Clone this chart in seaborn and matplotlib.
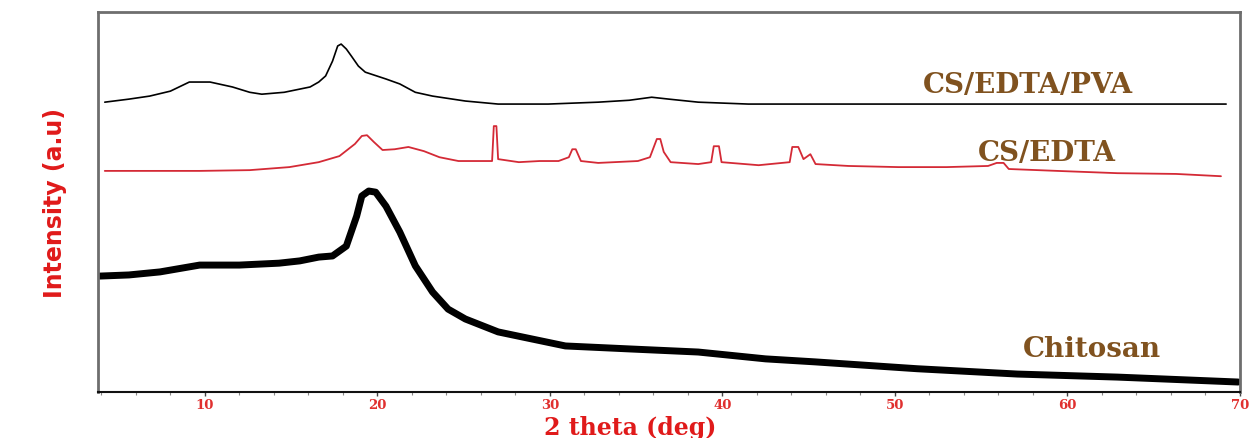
import matplotlib
matplotlib.use("Agg")
import matplotlib.pyplot as plt
from matplotlib.ticker import MultipleLocator
import seaborn as sns
import pandas as pd

# ---- data (2 theta in degrees, intensity in arbitrary units) ----
chitosan_2theta = [3.9, 5.6, 7.4, 9.7, 12.0, 14.3, 15.5, 16.6, 17.4, 18.2, 18.8, 19.1,
                   19.5, 19.9, 20.5, 21.3, 22.2, 23.2, 24.1, 25.1, 27.0, 29.0, 30.9,
                   34.7, 38.6, 42.5, 45.4, 51.3, 57.1, 62.9, 69.9]
chitosan_int = [30.5, 30.8, 31.6, 33.4, 33.4, 33.9, 34.5, 35.5, 35.8, 38.4, 46.3, 51.6,
                52.9, 52.6, 48.9, 42.1, 33.2, 26.3, 21.8, 19.2, 15.8, 13.9, 12.1,
                11.3, 10.5, 8.7, 7.9, 6.1, 4.7, 3.9, 2.6]

csedta_2theta = [4.2, 6.8, 9.7, 12.6, 14.9, 16.6, 17.8, 18.7, 19.1, 19.4, 19.8, 20.3,
                 21.0, 21.8, 22.7, 23.6, 24.7, 25.9, 26.65, 26.75, 26.9, 27.0, 28.2,
                 29.4, 30.5, 31.1, 31.3, 31.5, 31.8, 32.8, 35.1, 35.8, 36.2, 36.4,
                 36.6, 37.0, 38.6, 39.35, 39.5, 39.8, 39.95, 42.1, 43.9, 44.05, 44.4,
                 44.7, 45.1, 45.4, 47.3, 50.2, 53.0, 55.4, 55.9, 56.3, 56.6, 59.4,
                 62.9, 66.3, 68.9]
csedta_int = [58.2, 58.2, 58.2, 58.4, 59.2, 60.5, 62.1, 65.3, 67.4, 67.6, 65.8, 63.7,
              63.9, 64.5, 63.4, 61.8, 60.8, 60.8, 60.8, 70.0, 70.0, 61.3, 60.5,
              60.8, 60.8, 61.8, 63.9, 63.9, 60.8, 60.3, 60.8, 61.8, 66.6, 66.6,
              63.2, 60.5, 60.0, 60.5, 64.7, 64.7, 60.5, 59.7, 60.5, 64.5, 64.5,
              61.3, 62.6, 60.0, 59.5, 59.2, 59.2, 59.5, 60.3, 60.3, 58.7, 58.2,
              57.6, 57.4, 56.8]

pva_2theta = [4.2, 5.6, 6.8, 8.0, 9.1, 10.3, 11.6, 12.6, 13.3, 14.6, 16.1, 16.6, 17.0,
              17.4, 17.7, 17.9, 18.2, 18.5, 18.9, 19.3, 20.5, 21.3, 22.2, 23.2, 25.1,
              27.0, 29.9, 32.8, 34.6, 35.9, 36.9, 38.6, 41.5, 47.3, 55.9, 69.2]
pva_int = [76.3, 77.1, 77.9, 79.2, 81.6, 81.6, 80.3, 78.9, 78.4, 78.9, 80.3, 81.6, 83.2,
           87.1, 91.1, 91.6, 90.3, 88.4, 85.8, 84.2, 82.4, 81.1, 78.9, 77.9, 76.6,
           75.8, 75.8, 76.3, 76.8, 77.6, 77.1, 76.3, 75.8, 75.8, 75.8, 75.8]

series_labels = ["CS/EDTA/PVA", "CS/EDTA", "Chitosan"]
label_x = [57.7, 58.8, 61.4]
label_y = [81.0, 63.0, 11.3]
x_ticks = [10, 20, 30, 40, 50, 60, 70]

sns.set_style("white")
plt.rcParams['font.family'] = ['DejaVu Serif', 'DejaVu Sans']

fig = plt.figure(figsize=(12.55, 4.39), dpi=100)
ax = fig.add_axes([0.078, 0.105, 0.910, 0.865])

df_ch = pd.DataFrame({"x": chitosan_2theta, "y": chitosan_int})
df_ed = pd.DataFrame({"x": csedta_2theta, "y": csedta_int})
df_pv = pd.DataFrame({"x": pva_2theta, "y": pva_int})

sns.lineplot(data=df_ch, x="x", y="y", ax=ax, color="black", lw=5,
             estimator=None, sort=False)
sns.lineplot(data=df_ed, x="x", y="y", ax=ax, color="#d42a36", lw=1.3,
             estimator=None, sort=False)
sns.lineplot(data=df_pv, x="x", y="y", ax=ax, color="black", lw=1.2,
             estimator=None, sort=False)

txt_color = "#80521f"
for lab, lx, ly in zip(series_labels, label_x, label_y):
    ax.text(lx, ly, lab, ha="center", va="center", color=txt_color,
            fontsize=20, fontweight="bold", family="DejaVu Serif")

ax.set_xlim(3.8, 70)
ax.set_ylim(0, 100)
ax.set_xticks(x_ticks)
ax.set_xticklabels([str(t) for t in x_ticks], color="#e0302f", fontsize=9.5,
                   fontweight="bold")
ax.xaxis.set_minor_locator(MultipleLocator(2))
ax.tick_params(axis="x", which="major", direction="out", length=3, width=1,
               color="#444444", bottom=True, pad=1.5)
ax.tick_params(axis="x", which="minor", direction="out", length=2, width=0.8,
               color="#888888", bottom=True)
ax.set_yticks([])

ax.set_xlabel("2 theta (deg)", color="#e01a1a", fontsize=17, fontweight="bold")
ax.xaxis.set_label_coords(0.466, -0.06)
ax.set_ylabel("Intensity (a.u)", color="#e01a1a", fontsize=17, fontweight="bold",
              family="DejaVu Sans", labelpad=22)

for side in ["left", "top", "right"]:
    ax.spines[side].set_color("#6e6e6e")
    ax.spines[side].set_linewidth(2)
ax.spines["bottom"].set_color("#111111")
ax.spines["bottom"].set_linewidth(1.5)

fig.savefig("out.png", dpi=100)
